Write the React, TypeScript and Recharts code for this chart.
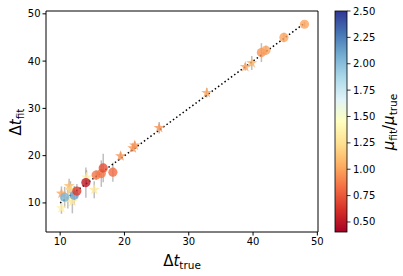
import React from 'react'
import { ScatterChart, Scatter, XAxis, YAxis, ErrorBar, ReferenceLine } from 'recharts'

// star markers
const starX = [10.2, 10.2, 11.2, 11.4, 11.6, 11.9, 14.1, 15.3, 19.4, 21.3, 21.6, 25.4, 32.8, 38.8, 39.8]
const starY = [12.0, 8.9, 10.8, 13.6, 12.8, 10.3, 15.4, 12.8, 19.9, 21.6, 22.2, 25.9, 33.3, 38.8, 39.6]
const starErr = [1.5, 1.2, 2.0, 1.5, 1.8, 2.5, 1.5, 1.8, 0.8, 0.8, 0.8, 1.2, 1.0, 0.8, 1.5]
const starRatio = [1.0, 1.35, 1.3, 1.1, 1.2, 1.3, 1.35, 1.3, 0.95, 0.95, 0.95, 0.95, 1.0, 1.0, 1.05]

// circle markers
const circX = [10.7, 12.2, 12.6, 14.0, 15.6, 16.4, 16.7, 18.2, 41.3, 42.0, 44.8, 48.0]
const circY = [11.2, 11.6, 12.5, 14.3, 15.9, 16.2, 17.4, 16.5, 41.8, 42.3, 45.0, 47.8]
const circErr = [2.2, 2.0, 1.5, 3.2, 1.0, 2.8, 3.0, 2.0, 2.0, 1.0, 1.0, 0.5]
const circRatio = [2.05, 2.1, 0.65, 0.5, 0.85, 0.85, 0.72, 0.82, 0.95, 1.0, 1.0, 1.0]

const xTicks = [10, 20, 30, 40, 50]
const yTicks = [10, 20, 30, 40, 50]
const cbTicks = [0.5, 0.75, 1.0, 1.25, 1.5, 1.75, 2.0, 2.25, 2.5]

const VMIN = 0.405
const VMAX = 2.5
const RDYLBU = ['#a50026', '#d73027', '#f46d43', '#fdae61', '#fee090', '#ffffbf',
  '#e0f3f8', '#abd9e9', '#74add1', '#4575b4', '#313695']

function hex(c: string) {
  return [1, 3, 5].map((i) => parseInt(c.slice(i, i + 2), 16))
}

function cmap(v: number) {
  const t = Math.min(1, Math.max(0, (v - VMIN) / (VMAX - VMIN))) * (RDYLBU.length - 1)
  const i = Math.min(RDYLBU.length - 2, Math.floor(t))
  const f = t - i
  const a = hex(RDYLBU[i])
  const b = hex(RDYLBU[i + 1])
  const c = a.map((v0, k) => Math.round(v0 + (b[k] - v0) * f))
  return `rgb(${c[0]},${c[1]},${c[2]})`
}

const stars = starX.map((x, i) => ({ x, y: starY[i], err: starErr[i], ratio: starRatio[i] }))
const circles = circX.map((x, i) => ({ x, y: circY[i], err: circErr[i], ratio: circRatio[i] }))

const Star = (props: any) => {
  const { cx, cy, payload } = props
  if (cx == null || cy == null) return null
  const R = 5.8, r = R * 0.4
  const pts: string[] = []
  for (let k = 0; k < 10; k++) {
    const rad = k % 2 === 0 ? R : r
    const a = -Math.PI / 2 + (k * Math.PI) / 5
    pts.push(`${cx + rad * Math.cos(a)},${cy + rad * Math.sin(a)}`)
  }
  return <polygon points={pts.join(' ')} fill={cmap(payload.ratio)} fillOpacity={0.8} />
}

const Dot = (props: any) => {
  const { cx, cy, payload } = props
  if (cx == null || cy == null) return null
  return <circle cx={cx} cy={cy} r={4.6} fill={cmap(payload.ratio)} fillOpacity={0.8} />
}

const font = 'DejaVu Sans, sans-serif'

export default function App() {
  const cbTop = 11, cbBottom = 232, cbLeft = 335, cbW = 12
  const cbY = (v: number) => cbBottom - ((v - VMIN) / (VMAX - VMIN)) * (cbBottom - cbTop)
  const stops = RDYLBU.map((c, i) => ({ off: i / (RDYLBU.length - 1), c }))
  return (
    <div style={{ position: 'absolute', left: 0, top: 0, width: 403, height: 276, background: '#fff' }}>
      <ScatterChart width={403} height={276} margin={{ top: 11, right: 85, bottom: 0, left: 0 }}>
        <XAxis type="number" dataKey="x" domain={[7.8, 50.1]} ticks={xTicks} allowDataOverflow
          height={44} tickSize={3.5} stroke="#000" tick={{ fill: '#000', fontSize: 10, fontFamily: font }} />
        <YAxis type="number" dataKey="y" domain={[3.85, 50.6]} ticks={yTicks} allowDataOverflow
          width={46} tickSize={3.5} stroke="#000" tick={{ fill: '#000', fontSize: 10, fontFamily: font }} />
        <ReferenceLine y={50.6} stroke="#000" strokeWidth={1} />
        <ReferenceLine x={50.1} stroke="#000" strokeWidth={1} />
        <Scatter data={stars} shape={<Star />} isAnimationActive={false}>
          <ErrorBar dataKey="err" direction="y" width={0} stroke="#808080" strokeOpacity={0.5} strokeWidth={1.5} />
        </Scatter>
        <Scatter data={circles} shape={<Dot />} isAnimationActive={false}>
          <ErrorBar dataKey="err" direction="y" width={0} stroke="#808080" strokeOpacity={0.5} strokeWidth={1.5} />
        </Scatter>
        <ReferenceLine segment={[{ x: 10, y: 10 }, { x: 48, y: 48 }]} stroke="#000" strokeWidth={1.5}
          strokeDasharray="1.5 2.5" />
      </ScatterChart>
      <svg width={403} height={276} style={{ position: 'absolute', left: 0, top: 0, pointerEvents: 'none' }}>
        <defs>
          <linearGradient id="cb" x1="0" y1="1" x2="0" y2="0">
            {stops.map((s) => <stop key={s.off} offset={s.off} stopColor={s.c} />)}
          </linearGradient>
        </defs>
        <rect x={cbLeft} y={cbTop} width={cbW} height={cbBottom - cbTop} fill="url(#cb)" stroke="#000" strokeWidth={0.8} />
        {cbTicks.map((v) => (
          <g key={v}>
            <line x1={cbLeft + cbW} x2={cbLeft + cbW + 3.5} y1={cbY(v)} y2={cbY(v)} stroke="#000" strokeWidth={0.8} />
            <text x={cbLeft + cbW + 6} y={cbY(v) + 3.5} fontSize={10} fontFamily={font}>{v.toFixed(2)}</text>
          </g>
        ))}
        <text x={182} y={266} textAnchor="middle" fontSize={15} fontFamily={font}>
          <tspan>Δ</tspan><tspan fontStyle="italic">t</tspan>
          <tspan fontSize={10.5} dy={3}>true</tspan>
        </text>
        <text transform="translate(21,122) rotate(-90)" textAnchor="middle" fontSize={15} fontFamily={font}>
          <tspan>Δ</tspan><tspan fontStyle="italic">t</tspan>
          <tspan fontSize={10.5} dy={3}>fit</tspan>
        </text>
        <text transform="translate(394,122) rotate(-90)" textAnchor="middle" fontSize={15} fontFamily={font}>
          <tspan fontStyle="italic">μ</tspan><tspan fontSize={10.5} dy={3}>fit</tspan>
          <tspan dy={-3}>/</tspan><tspan fontStyle="italic">μ</tspan>
          <tspan fontSize={10.5} dy={3}>true</tspan>
        </text>
      </svg>
    </div>
  )
}
